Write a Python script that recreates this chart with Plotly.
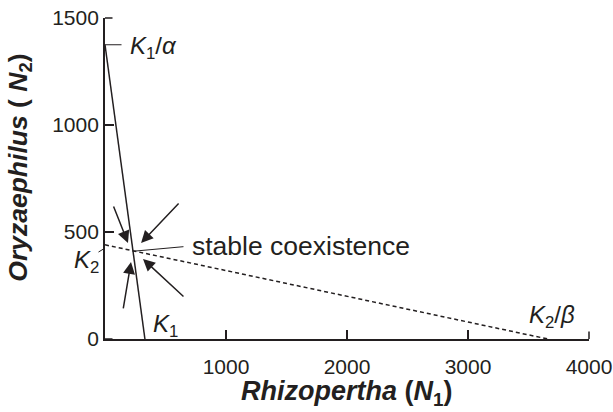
import plotly.graph_objects as go

# Isocline data (N1 = Rhizopertha, N2 = Oryzaephilus)
K1 = 330
K1_over_alpha = 1375
K2 = 440
K2_over_beta = 3660

iso1_x = [0, K1]
iso1_y = [K1_over_alpha, 0]
iso2_x = [0, K2_over_beta]
iso2_y = [K2, 0]

x_ticks = [1000, 2000, 3000, 4000]
y_ticks = [0, 500, 1000, 1500]

# arrows toward equilibrium: tail (x, y) -> head (x, y)
arrow_tail_x = [66, 620, 149, 661]
arrow_tail_y = [626, 640, 136, 192]
arrow_head_x = [190, 298, 215, 314]
arrow_head_y = [449, 449, 360, 374]

# equilibrium point
eq_x = 231
eq_y = 410

X_RANGE = [0, 4000]
Y_RANGE = [0, 1500]

FONT = "Liberation Sans, Arial, Helvetica, sans-serif"
TXT = "#231f20"

W, H = 613, 412
M = dict(l=105, r=24, t=18, b=73)
PLOT_W = W - M["l"] - M["r"]
PLOT_H = H - M["t"] - M["b"]
TICK_LEN = 9
# tick length expressed in data units through each axis scale
X_TICK_DATA = TICK_LEN / PLOT_W * (X_RANGE[1] - X_RANGE[0])
Y_TICK_DATA = TICK_LEN / PLOT_H * (Y_RANGE[1] - Y_RANGE[0])


def xpaper(v):
    return (v - X_RANGE[0]) / (X_RANGE[1] - X_RANGE[0])


fig = go.Figure()
fig.add_trace(go.Scatter(x=iso1_x, y=iso1_y, mode="lines",
                         line=dict(color=TXT, width=1.5),
                         showlegend=False, hoverinfo="skip", cliponaxis=False))
fig.add_trace(go.Scatter(x=iso2_x, y=iso2_y, mode="lines",
                         line=dict(color=TXT, width=1.5, dash="4px,3px"),
                         showlegend=False, hoverinfo="skip", cliponaxis=False))

annotations = []
# inside tick marks drawn as headless arrows
for v in x_ticks:
    annotations.append(dict(x=v, y=Y_RANGE[0], ax=v, ay=Y_RANGE[0] + Y_TICK_DATA,
                            xref="x", yref="y", axref="x", ayref="y", text="",
                            showarrow=True, arrowhead=0, arrowwidth=1.5,
                            arrowcolor=TXT))
for v in y_ticks:
    annotations.append(dict(x=X_RANGE[0], y=v, ax=X_RANGE[0] + X_TICK_DATA, ay=v,
                            xref="x", yref="y", axref="x", ayref="y", text="",
                            showarrow=True, arrowhead=0, arrowwidth=1.5,
                            arrowcolor=TXT))

for tx, ty, hx, hy in zip(arrow_tail_x, arrow_tail_y, arrow_head_x, arrow_head_y):
    annotations.append(dict(x=hx, y=hy, ax=tx, ay=ty, xref="x", yref="y",
                            axref="x", ayref="y", text="", showarrow=True,
                            arrowhead=2, arrowsize=1.6, arrowwidth=1.5,
                            arrowcolor=TXT))

# leader line to "stable coexistence"
annotations.append(dict(x=eq_x, y=eq_y, ax=661, ay=432, xref="x", yref="y",
                        axref="x", ayref="y", text="", showarrow=True,
                        arrowhead=0, arrowwidth=1, arrowcolor=TXT))
annotations.append(dict(x=702, y=434, xref="x", yref="y", text="stable coexistence",
                        showarrow=False, xanchor="left", yanchor="middle",
                        font=dict(family=FONT, size=26.5, color=TXT)))
# K1/alpha tick + label
annotations.append(dict(x=0, y=K1_over_alpha, ax=149, ay=K1_over_alpha, xref="x", yref="y",
                        axref="x", ayref="y", text="", showarrow=True,
                        arrowhead=0, arrowwidth=1, arrowcolor=TXT))
annotations.append(dict(x=190, y=1364, xref="x", yref="y",
                        text="<i>K</i><sub>1</sub>/<i>α</i>",
                        showarrow=False, xanchor="left", yanchor="middle",
                        font=dict(family=FONT, size=24, color=TXT)))
# K2 tick + label
annotations.append(dict(x=0, y=K2 - 15, ax=-66, ay=402, xref="x", yref="y",
                        axref="x", ayref="y", text="", showarrow=True,
                        arrowhead=0, arrowwidth=1, arrowcolor=TXT))
annotations.append(dict(x=xpaper(-150), y=360, xref="paper", yref="y",
                        text="<i>K</i><sub>2</sub>",
                        showarrow=False, xanchor="center", yanchor="middle",
                        font=dict(family=FONT, size=24, color=TXT)))
# K1 label
annotations.append(dict(x=496, y=61, xref="x", yref="y",
                        text="<i>K</i><sub>1</sub>",
                        showarrow=False, xanchor="center", yanchor="middle",
                        font=dict(family=FONT, size=24, color=TXT)))
# K2/beta label
annotations.append(dict(x=3694, y=107, xref="x", yref="y",
                        text="<i>K</i><sub>2</sub>/<i>β</i>",
                        showarrow=False, xanchor="center", yanchor="middle",
                        font=dict(family=FONT, size=24, color=TXT)))
# axis titles
annotations.append(dict(x=0.5, y=-0.168, xref="paper", yref="paper",
                        text="<b><i>Rhizopertha</i> (<i>N</i><sub>1</sub>)</b>",
                        showarrow=False, xanchor="center", yanchor="middle",
                        font=dict(family=FONT, size=27, color=TXT)))
annotations.append(dict(x=-0.176, y=0.533, xref="paper", yref="paper",
                        text="<b><i>Oryzaephilus</i> ( <i>N</i><sub>2</sub>)</b>",
                        showarrow=False, xanchor="center", yanchor="middle",
                        textangle=-90,
                        font=dict(family=FONT, size=26.5, color=TXT)))

fig.update_layout(
    width=W, height=H,
    margin=M,
    paper_bgcolor="white", plot_bgcolor="white",
    font=dict(family=FONT, color=TXT),
    annotations=annotations,
    xaxis=dict(range=X_RANGE, tickmode="array", tickvals=x_ticks,
               ticktext=[str(v) for v in x_ticks],
               ticks="inside", ticklen=TICK_LEN, tickwidth=1.5, tickcolor=TXT,
               showline=True, linecolor=TXT, linewidth=1.8,
               showgrid=False, zeroline=False, automargin=False,
               ticklabelstandoff=8,
               tickfont=dict(family=FONT, size=21, color=TXT)),
    yaxis=dict(range=Y_RANGE, tickmode="array", tickvals=y_ticks,
               ticktext=[str(v) for v in y_ticks],
               ticks="inside", ticklen=TICK_LEN, tickwidth=1.5, tickcolor=TXT,
               showline=True, linecolor=TXT, linewidth=1.8,
               showgrid=False, zeroline=False, automargin=False,
               tickfont=dict(family=FONT, size=21, color=TXT)),
)

fig.write_html(
    "out.html",
    config={"displayModeBar": False},
    post_script="document.body.style.margin='0';document.body.style.overflow='hidden';",
)
